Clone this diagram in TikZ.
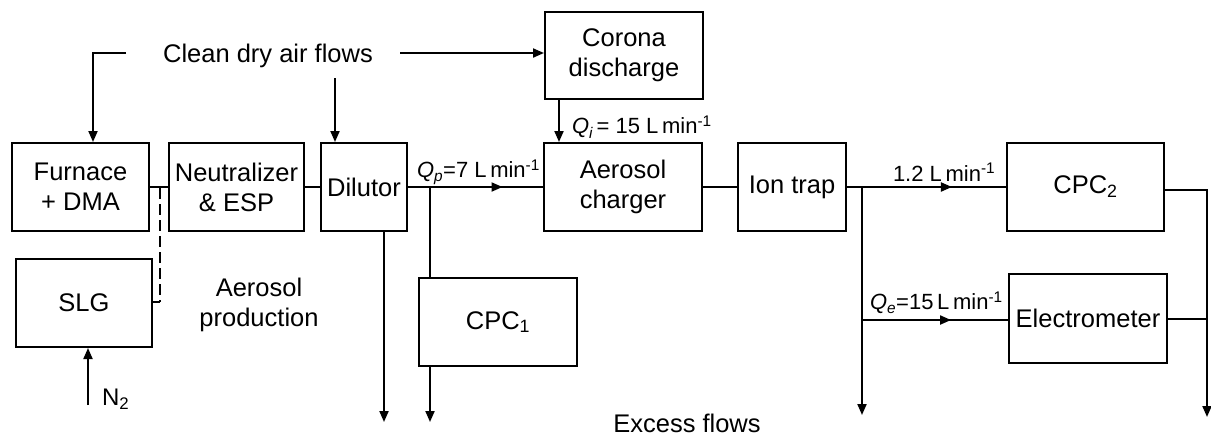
\documentclass[tikz,border=0pt]{standalone}
\usepackage{fontspec}
\setmainfont{Liberation Sans}
\usetikzlibrary{arrows.meta,decorations.markings}
\begin{document}
\begin{tikzpicture}[x=1pt,y=-1pt,
  line width=2pt,
  box/.style={draw,rectangle,inner sep=0pt,align=center,font=\fontsize{25.5}{30}\selectfont},
  lbl/.style={inner sep=0pt,font=\fontsize{22}{26}\selectfont},
  big/.style={inner sep=0pt,align=center,font=\fontsize{25.5}{30}\selectfont},
  arr/.style={-{Triangle[length=11pt,width=9pt]}},
  midarrow/.style={postaction={decorate},decoration={markings,mark=at position #1 with {\arrow{Triangle[length=11pt,width=9pt]}}}},
  dashline/.style={dash pattern=on 11pt off 5pt}]
\useasboundingbox (0,0) rectangle (1211,437);
% boxes
\node[box,minimum width=137pt,minimum height=88pt] (fur) at (80.5,187) {Furnace\\+ DMA};
\node[box,minimum width=135pt,minimum height=88pt] (neu) at (236.5,187) {Neutralizer\\\& ESP};
\node[box,minimum width=86pt,minimum height=88pt] (dil) at (364,187) {Dilutor};
\node[box,minimum width=136pt,minimum height=88pt] (slg) at (84,303) {SLG};
\node[box,minimum width=158pt,minimum height=87pt] (cor) at (624,55.5) {Corona\\discharge};
\node[box,minimum width=158pt,minimum height=88pt] (chg) at (623,187) {Aerosol\\charger};
\node[box,minimum width=158pt,minimum height=88pt] (cpc1) at (498,322) {CPC\textsubscript{1}};
\node[box,minimum width=108pt,minimum height=88pt] (ion) at (792,187) {Ion trap};
\node[box,minimum width=157pt,minimum height=88pt] (cpc2) at (1085.5,187) {CPC\textsubscript{2}};
\node[box,minimum width=158pt,minimum height=89pt] (ele) at (1088,318.5) {Electrometer};
% free texts
\node[big] (air) at (268,56) {Clean dry air flows};
\node[big] (prod) at (259,305) {Aerosol\\production};
\node[big] (exc) at (687,423) {Excess flows};
\node[lbl,anchor=west,font=\fontsize{24}{28}\selectfont] (n2) at (101,399) {N\textsubscript{2}};
\node[lbl,anchor=west] (qp) at (416,172) {\textit{Q\textsubscript{p}}=7 L\,min\textsuperscript{-1}};
\node[lbl,anchor=west] (qi) at (571,127) {\textit{Q\textsubscript{i}}\,= 15 L\,min\textsuperscript{-1}};
\node[lbl,anchor=west] (q12) at (892,172) {1.2 L\,min\textsuperscript{-1}};
\node[lbl,anchor=west] (qe) at (869,303) {\textit{Q\textsubscript{e}}=15\,L\,min\textsuperscript{-1}};
% coordinates
\coordinate (al) at (126,53);
\coordinate (alc) at (93,53);
\coordinate (ar) at (400,53);
\coordinate (ad) at (335,78);
\coordinate (cx) at (559,0);
\coordinate (dsh) at (160,188);
\coordinate (dshb) at (160,302);
\coordinate (n2s) at (88,405);
\coordinate (dilx) at (384,422);
\coordinate (jp) at (430,188);
\coordinate (cpc1o) at (430,422);
\coordinate (ji) at (862,188);
\coordinate (jio) at (862,415);
\coordinate (je) at (862,320);
\coordinate (rc) at (1207,190);
\coordinate (ro) at (1207,417);
% air supply
\draw[arr] (al) -- (alc) -- (alc |- fur.north);
\draw[arr] (ar) -- (ar -| cor.west);
\draw[arr] (ad) -- (ad |- dil.north);
\draw[arr] (cx |- cor.south) -- (cx |- chg.north);
% main line
\draw (fur.east) -- (neu.west);
\draw (neu.east) -- (dil.west);
\draw[midarrow=0.70] (dil.east) -- (chg.west);
\draw (chg.east) -- (ion.west);
\draw[midarrow=0.66] (ion.east) -- (cpc2.west);
% dashed SLG link
\draw[dashline] (dsh) -- (dshb);
\draw (dshb) -- (dshb -| slg.east);
\draw[arr] (n2s) -- (n2s |- slg.south);
% excess flows
\draw[arr] (dilx |- dil.south) -- (dilx);
\draw (jp) -- (jp |- cpc1.north);
\draw[arr] (cpc1o |- cpc1.south) -- (cpc1o);
\draw[arr] (ji) -- (jio);
\draw[midarrow=0.61] (je) -- (je -| ele.west);
\draw[arr] (rc -| cpc2.east) -- (rc) -- (ro);
\draw (ele.east) -- (ele.east -| ro);
\end{tikzpicture}
\end{document}
